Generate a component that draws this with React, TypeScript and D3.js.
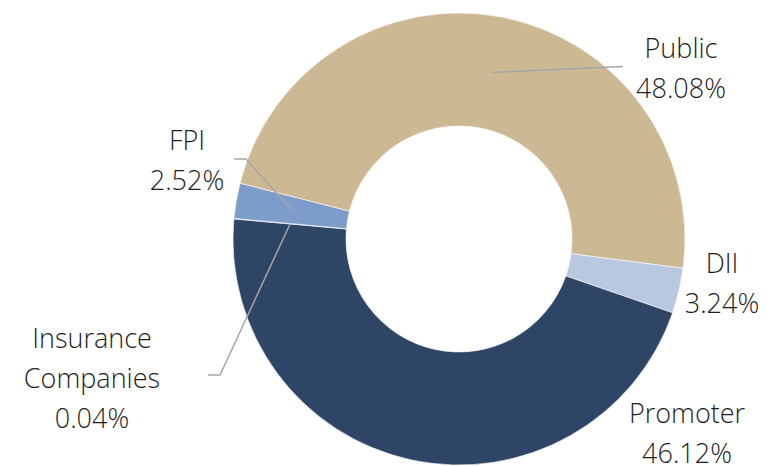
import React, { useRef, useEffect } from "react";
import * as d3 from "d3";

// clockwise from the DII slice (right side)
const categories = ["DII", "Promoter", "Insurance Companies", "FPI", "Public"];
const values = [3.24, 46.12, 0.04, 2.52, 48.08];
const colors = ["#B9C7DF", "#2F4566", "#2F4566", "#7E9CCA", "#CCB892"];

// label lines and positions (text lines, centre x, first baseline, elbow point)
const labelLines = [["DII", "3.24%"], ["Promoter", "46.12%"], ["Insurance", "Companies", "0.04%"], ["FPI", "2.52%"], ["Public", "48.08%"]];
const labelPos = [
  { x: 722, y: 273, elbow: null },
  { x: 687, y: 423, elbow: null },
  { x: 92, y: 348, elbow: [[208, 375], [220, 375]] },
  { x: 187, y: 150, elbow: [[234, 159], [246, 159]] },
  { x: 681, y: 58, elbow: [[623, 66.5]] },
];

const App: React.FC = () => {
  const ref = useRef<SVGSVGElement | null>(null);

  useEffect(() => {
    const svg = d3.select(ref.current);
    svg.selectAll("*").remove();

    const width = 767;
    const height = 466;
    const cx = 459;
    const cy = 239;
    const outer = 226;
    const inner = 113;

    svg.attr("width", width).attr("height", height);

    const start = (97.4 * Math.PI) / 180;
    const pie = d3
      .pie<number>()
      .sort(null)
      .startAngle(start)
      .endAngle(start + 2 * Math.PI)(values);

    const arc = d3.arc<d3.PieArcDatum<number>>().innerRadius(inner).outerRadius(outer);

    const g = svg.append("g").attr("transform", `translate(${cx},${cy})`);

    g.selectAll("path")
      .data(pie)
      .enter()
      .append("path")
      .attr("d", arc)
      .attr("fill", (d, i) => colors[i])
      .attr("stroke", "#ffffff")
      .attr("stroke-width", 0.6);

    // leader lines
    pie.forEach((d, i) => {
      const p = labelPos[i];
      if (!p.elbow) return;
      const [mx, my] = arc.centroid(d);
      const pts: [number, number][] = [...(p.elbow as [number, number][]), [mx + cx, my + cy]];
      svg
        .append("path")
        .attr("d", d3.line()(pts))
        .attr("fill", "none")
        .attr("stroke", "#A6A6A6")
        .attr("stroke-width", 1.5);
    });

    labelLines.forEach((lines, i) => {
      const p = labelPos[i];
      const t = svg
        .append("text")
        .attr("text-anchor", "middle")
        .attr("font-family", "'Open Sans', sans-serif")
        .attr("font-weight", 300)
        .attr("font-size", 27)
        .attr("fill", "#1e1e1e");
      lines.forEach((ln, j) => {
        t.append("tspan").attr("x", p.x).attr("y", p.y + j * 40).text(ln);
      });
    });
  }, []);

  return <svg ref={ref} style={{ position: "absolute", left: 0, top: 0, background: "#fff" }}></svg>;
};

export default App;
